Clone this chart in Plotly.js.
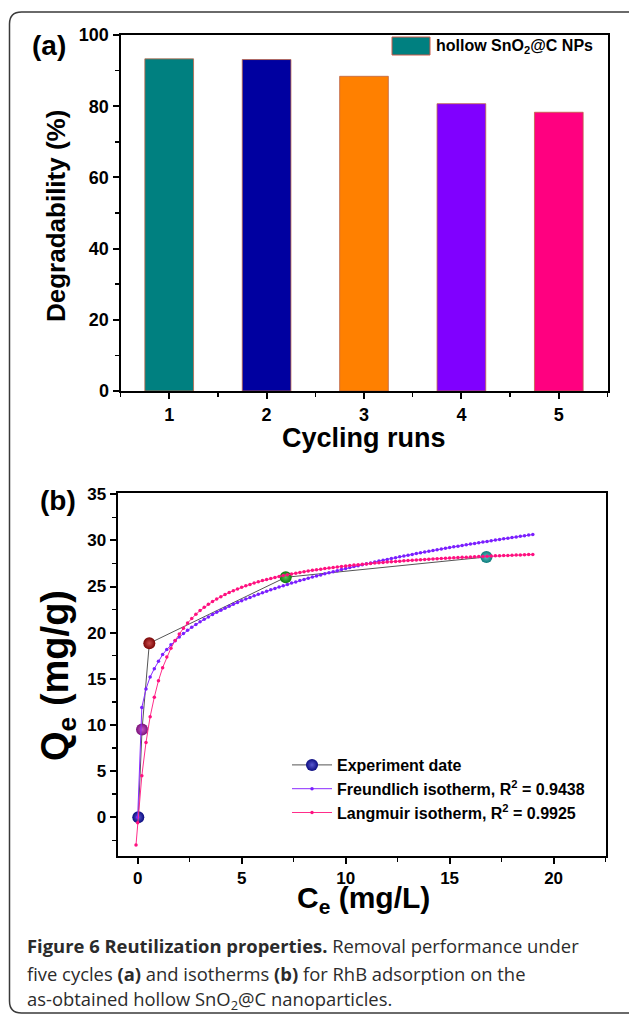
<!DOCTYPE html>
<html>
<head>
<meta charset="utf-8">
<script src="https://cdn.plot.ly/plotly-3.0.1.min.js"></script>
<style>
html,body{margin:0;padding:0;background:#fff;}
#chart{width:629px;height:1016px;}
</style>
</head>
<body>
<div id="chart"></div>
<script>
// ---------- Panel (a): cycling runs ----------
const cycleRuns = [1, 2, 3, 4, 5];
const cycleTickLabels = ['1', '2', '3', '4', '5'];
const degradability = [93.3, 93.1, 88.4, 80.7, 78.3];
const barSeriesName = 'hollow SnO<sub>2</sub>@C NPs';

// ---------- Panel (b): isotherms ----------
const expCe = [0.03, 0.21, 0.56, 7.12, 16.77];
const expQe = [0, 9.5, 18.85, 26.0, 28.2];

const fitCe = [-0.08, 0, 0.2, 0.4, 0.6, 0.8, 1.0, 1.2, 1.4, 1.6, 1.8, 2.0, 2.2, 2.4, 2.6, 2.8, 3.0,
  3.2, 3.4, 3.6, 3.8, 4.0, 4.2, 4.4, 4.6, 4.8, 5.0, 5.2, 5.4, 5.6, 5.8, 6.0, 6.2, 6.4, 6.6, 6.8, 7.0,
  7.2, 7.4, 7.6, 7.8, 8.0, 8.2, 8.4, 8.6, 8.8, 9.0, 9.2, 9.4, 9.6, 9.8, 10.0, 10.2, 10.4, 10.6, 10.8, 11.0,
  11.2, 11.4, 11.6, 11.8, 12.0, 12.2, 12.4, 12.6, 12.8, 13.0, 13.2, 13.4, 13.6, 13.8, 14.0, 14.2, 14.4, 14.6, 14.8, 15.0,
  15.2, 15.4, 15.6, 15.8, 16.0, 16.2, 16.4, 16.6, 16.8, 17.0, 17.2, 17.4, 17.6, 17.8, 18.0, 18.2, 18.4, 18.6, 18.8, 19.0];

const freundlichQe = [null, 0, 11.9, 13.9, 15.2, 16.1, 16.9, 17.63, 18.18, 18.68, 19.12, 19.53, 19.90, 20.25, 20.58, 20.89, 21.18,
  21.45, 21.71, 21.96, 22.20, 22.43, 22.65, 22.86, 23.07, 23.26, 23.46, 23.64, 23.82, 23.99, 24.16, 24.33, 24.49, 24.64, 24.79, 24.94, 25.09,
  25.23, 25.37, 25.50, 25.64, 25.77, 25.89, 26.02, 26.14, 26.26, 26.38, 26.50, 26.61, 26.72, 26.83, 26.94, 27.05, 27.16, 27.26, 27.36, 27.46,
  27.56, 27.66, 27.76, 27.85, 27.94, 28.04, 28.13, 28.22, 28.31, 28.39, 28.48, 28.57, 28.65, 28.74, 28.82, 28.90, 28.98, 29.06, 29.14, 29.22,
  29.30, 29.37, 29.45, 29.52, 29.60, 29.67, 29.74, 29.82, 29.89, 29.96, 30.03, 30.10, 30.17, 30.23, 30.30, 30.37, 30.44, 30.50, 30.57, 30.63];

const langmuirQe = [-3.0, -0.6, 4.5, 8.1, 10.9, 13.0, 14.8, 16.21, 17.35, 18.32, 19.15, 19.86, 20.49, 21.05, 21.54, 21.99, 22.39,
  22.75, 23.07, 23.37, 23.65, 23.90, 24.14, 24.35, 24.55, 24.74, 24.92, 25.08, 25.23, 25.38, 25.51, 25.64, 25.76, 25.87, 25.98, 26.09, 26.18,
  26.28, 26.36, 26.45, 26.53, 26.61, 26.68, 26.75, 26.82, 26.88, 26.95, 27.00, 27.06, 27.12, 27.17, 27.22, 27.27, 27.32, 27.37, 27.41, 27.45,
  27.49, 27.54, 27.57, 27.61, 27.65, 27.68, 27.72, 27.75, 27.78, 27.82, 27.85, 27.88, 27.91, 27.93, 27.96, 27.99, 28.01, 28.04, 28.07, 28.09,
  28.11, 28.14, 28.16, 28.18, 28.20, 28.22, 28.24, 28.26, 28.28, 28.30, 28.32, 28.34, 28.36, 28.37, 28.39, 28.41, 28.42, 28.44, 28.46, 28.47];

const seriesNames = ['Experiment date', 'Freundlich isotherm, R<sup>2</sup> = 0.9438', 'Langmuir isotherm, R<sup>2</sup> = 0.9925'];

// ---------- styles ----------
const barColors = ['#008080', '#0000A0', '#FF8000', '#8000FF', '#FF0080'];
const expColors = ['#0c0c80', '#7a107a', '#7a0606', '#0c7a0c', '#0c7a7a'];
const expHighlights = ['#5a5ad0', '#c45ac4', '#c84a4a', '#5ac45a', '#5ac4c4'];
const FONT = 'Liberation Sans, Arial, Helvetica, sans-serif';
const CAPTION_FONT = 'Open Sans, Noto Sans, sans-serif';
const W = 629, H = 1016;
const X = px => px / W;
const Y = py => 1 - py / H;

const traces = [
  {
    type: 'bar', x: cycleRuns, y: degradability, name: barSeriesName,
    xaxis: 'x', yaxis: 'y', width: 0.5, showlegend: false,
    marker: {color: barColors, line: {color: 'rgba(190,100,70,0.8)', width: 1}}
  },
  {
    type: 'scatter', mode: 'lines+markers', x: expCe, y: expQe, name: seriesNames[0],
    xaxis: 'x2', yaxis: 'y2', legend: 'legend2',
    line: {color: '#555555', width: 1},
    marker: {size: 12, color: expColors, gradient: {type: 'radial', color: expHighlights}}
  },
  {
    type: 'scatter', mode: 'lines+markers', x: fitCe, y: freundlichQe, name: seriesNames[1],
    xaxis: 'x2', yaxis: 'y2', legend: 'legend2', connectgaps: false,
    line: {color: '#8A2BFF', width: 1},
    marker: {size: 3.5, color: '#7A1FFF'}
  },
  {
    type: 'scatter', mode: 'lines+markers', x: fitCe, y: langmuirQe, name: seriesNames[2],
    xaxis: 'x2', yaxis: 'y2', legend: 'legend2',
    line: {color: '#FF2D8A', width: 1},
    marker: {size: 3.5, color: '#FF1080'}
  }
];

const tickFontA = {family: FONT, size: 18, color: '#000', weight: 'bold'};
const tickFontB = {family: FONT, size: 17, color: '#000', weight: 'bold'};
const axisCommon = {
  showline: true, linewidth: 2, linecolor: '#000', mirror: true,
  ticks: 'outside', ticklen: 6, tickwidth: 2, tickcolor: '#000',
  showgrid: false, zeroline: false, fixedrange: true
};
const minorCommon = {ticks: 'outside', ticklen: 4, tickwidth: 1.5, tickcolor: '#000', showgrid: false};

const layout = {
  width: W, height: H,
  margin: {l: 0, r: 0, t: 0, b: 0},
  paper_bgcolor: '#fff', plot_bgcolor: '#fff',
  showlegend: true,
  xaxis: Object.assign({}, axisCommon, {
    domain: [X(120.5), X(607.5)], range: [0.5, 5.5], anchor: 'y',
    tickmode: 'array', tickvals: cycleRuns, ticktext: cycleTickLabels,
    tickfont: tickFontA,
    minor: Object.assign({}, minorCommon, {tickmode: 'linear', tick0: 0.5, dtick: 0.5})
  }),
  yaxis: Object.assign({}, axisCommon, {
    domain: [Y(391), Y(35)], range: [0, 100], anchor: 'x',
    tick0: 0, dtick: 20, tickfont: tickFontA,
    minor: Object.assign({}, minorCommon, {tick0: 0, dtick: 10})
  }),
  xaxis2: Object.assign({}, axisCommon, {
    domain: [X(117.5), X(605.6)], range: [-0.97, 22.5], anchor: 'y2',
    tick0: 0, dtick: 5, tickfont: tickFontB,
    minor: Object.assign({}, minorCommon, {tick0: 0, dtick: 2.5})
  }),
  yaxis2: Object.assign({}, axisCommon, {
    domain: [Y(856), Y(493.3)], range: [-4.2, 35.1], anchor: 'x2',
    tick0: 0, dtick: 5, tickfont: tickFontB,
    minor: Object.assign({}, minorCommon, {tick0: 0, dtick: 2.5})
  }),
  legend2: {
    x: X(287), y: Y(748), xanchor: 'left', yanchor: 'top',
    bgcolor: 'rgba(0,0,0,0)', borderwidth: 0, itemwidth: 40,
    font: {family: FONT, size: 16, color: '#000', weight: 'bold'}
  },
  shapes: [
    // outer rounded frame of the figure
    {type: 'path', xref: 'paper', yref: 'paper',
     path: 'M 1.05,' + Y(12) + ' L ' + X(21.5) + ',' + Y(12) + ' Q ' + X(9.5) + ',' + Y(12) + ' ' + X(9.5) + ',' + Y(24) +
           ' L ' + X(9.5) + ',' + Y(1001) + ' Q ' + X(9.5) + ',' + Y(1013) + ' ' + X(21.5) + ',' + Y(1013) + ' L 1.05,' + Y(1013),
     line: {color: '#3a3a3a', width: 1.5}},
    // legend swatch of panel (a)
    {type: 'rect', xref: 'paper', yref: 'paper', x0: X(392), x1: X(430), y0: Y(55), y1: Y(37),
     fillcolor: barColors[0], line: {color: '#cc5a4a', width: 1}}
  ],
  annotations: [
    {text: '(a)', x: X(49), y: Y(45), xref: 'paper', yref: 'paper', showarrow: false,
     xanchor: 'center', yanchor: 'middle', font: {family: FONT, size: 28, color: '#000', weight: 'bold'}},
    {text: barSeriesName, x: X(434), y: Y(46), xref: 'paper', yref: 'paper', showarrow: false,
     xanchor: 'left', yanchor: 'middle', font: {family: FONT, size: 16, color: '#000', weight: 'bold'}},
    {text: 'Degradability (%)', x: X(56), y: Y(216), xref: 'paper', yref: 'paper', showarrow: false,
     textangle: -90, xanchor: 'center', yanchor: 'middle', font: {family: FONT, size: 26, color: '#000', weight: 'bold'}},
    {text: 'Cycling runs', x: X(364.5), y: Y(438), xref: 'paper', yref: 'paper', showarrow: false,
     xanchor: 'center', yanchor: 'middle', font: {family: FONT, size: 27, color: '#000', weight: 'bold'}},
    {text: '(b)', x: X(58), y: Y(500), xref: 'paper', yref: 'paper', showarrow: false,
     xanchor: 'center', yanchor: 'middle', font: {family: FONT, size: 28, color: '#000', weight: 'bold'}},
    {text: 'Q<sub>e</sub> (mg/g)', x: X(58), y: Y(676), xref: 'paper', yref: 'paper', showarrow: false,
     textangle: -90, xanchor: 'center', yanchor: 'middle', font: {family: FONT, size: 38, color: '#000', weight: 'bold'}},
    {text: 'C<sub>e</sub> (mg/L)', x: X(363), y: Y(899), xref: 'paper', yref: 'paper', showarrow: false,
     xanchor: 'center', yanchor: 'middle', font: {family: FONT, size: 30, color: '#000', weight: 'bold'}},
    {text: '<b>Figure 6 Reutilization properties.</b> Removal performance under', x: X(25), y: Y(945),
     xref: 'paper', yref: 'paper', showarrow: false, xanchor: 'left', yanchor: 'middle', align: 'left',
     font: {family: CAPTION_FONT, size: 18.4, color: '#2b2b2b'}},
    {text: 'five cycles <b>(a)</b> and isotherms <b>(b)</b> for RhB adsorption on the', x: X(25), y: Y(973),
     xref: 'paper', yref: 'paper', showarrow: false, xanchor: 'left', yanchor: 'middle', align: 'left',
     font: {family: CAPTION_FONT, size: 18.4, color: '#2b2b2b'}},
    {text: 'as-obtained hollow SnO<sub>2</sub>@C nanoparticles.', x: X(25), y: Y(1000),
     xref: 'paper', yref: 'paper', showarrow: false, xanchor: 'left', yanchor: 'middle', align: 'left',
     font: {family: CAPTION_FONT, size: 18.4, color: '#2b2b2b'}}
  ]
};

Plotly.newPlot('chart', traces, layout, {displayModeBar: false, staticPlot: true});
</script>
</body>
</html>
